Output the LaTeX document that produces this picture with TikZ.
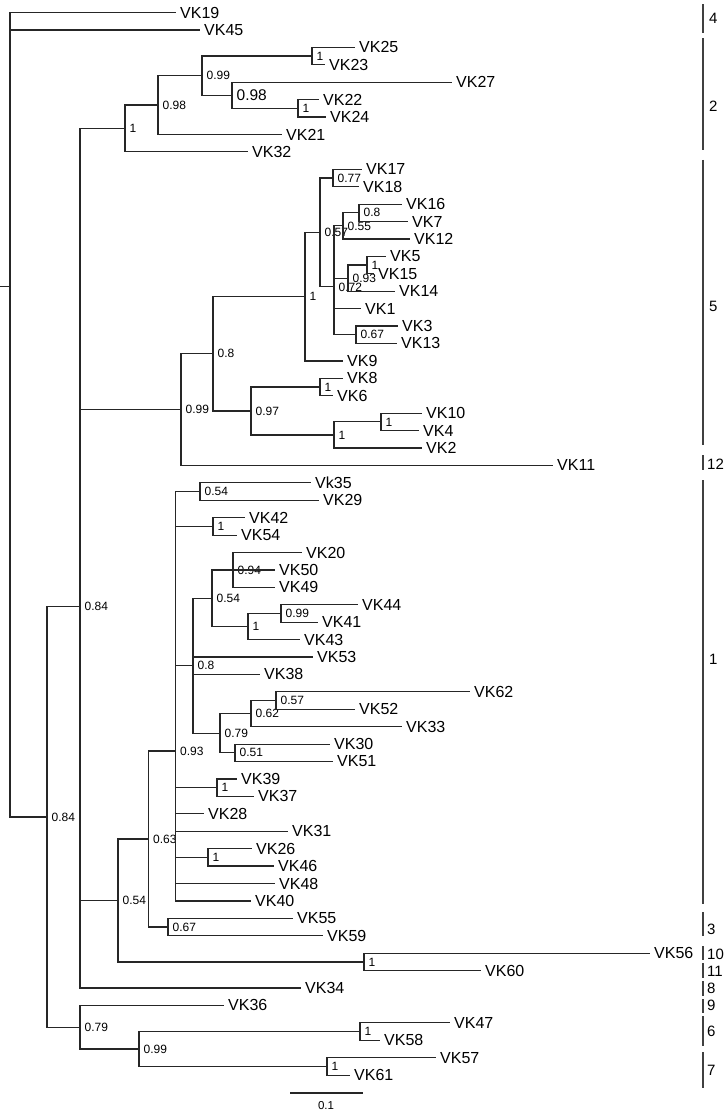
\documentclass[tikz,border=0pt]{standalone}
\usepackage{fontspec}
\setmainfont{Liberation Sans}

\begin{document}
\begin{tikzpicture}[x=1pt, y=-17.42pt,
  branch/.style={line width=1.2pt, black!85},
  leaf/.style={anchor=west, inner xsep=4pt, inner ysep=0pt, font=\fontsize{16}{16}\selectfont},
  supp/.style={inner sep=0pt, font=\fontsize{12}{12}\selectfont},
  bigsupp/.style={inner sep=0pt, font=\fontsize{15.5}{15.5}\selectfont},
  clade/.style={line width=1.6pt, black!75},
  cnum/.style={anchor=west, inner sep=0pt, font=\fontsize{15}{15}\selectfont},
  label distance=4.5pt]
  \useasboundingbox (0pt,12.5pt) rectangle (726pt,-1101.5pt);

  % internal nodes
  \coordinate (stub) at (0,15.726);
  \coordinate (root) at (10,15.726);
  \coordinate[label={[supp]right:0.84}] (nA) at (47,46.178);
  \coordinate[label={[supp]right:0.84}] (nB) at (80,34.106);
  \coordinate[label={[supp]right:0.79}] (nC) at (80,58.25);
  \coordinate[label={[supp]right:0.99}] (nD) at (139,59.5);
  \coordinate[label={[supp]right:1}] (nAR) at (360,58.5);
  \coordinate[label={[supp]right:1}] (nAS) at (327,60.5);
  \coordinate[label={[supp]right:1}] (nE) at (125,6.656);
  \coordinate[label={[supp]right:0.98}] (nV) at (158,5.3125);
  \coordinate[label={[supp]right:0.99}] (nW) at (202,3.625);
  \coordinate[label={[supp]right:1}] (nX) at (312,2.5);
  \coordinate[label={[bigsupp]right:0.98}] (nY) at (232,4.75);
  \coordinate[label={[supp]right:1}] (nZ) at (298,5.5);
  \coordinate[label={[supp]right:0.99}] (nF) at (181,22.797);
  \coordinate[label={[supp]right:0.8}] (nH) at (213,19.594);
  \coordinate[label={[supp]right:1}] (nI) at (305,16.3125);
  \coordinate[label={[supp]right:0.57}] (nJ) at (320,12.625);
  \coordinate[label={[supp]right:0.77}] (nK) at (333,9.5);
  \coordinate[label={[supp]right:0.72}] (nL) at (334,15.75);
  \coordinate[label={[supp]right:0.55}] (nM) at (343,12.25);
  \coordinate[label={[supp]right:0.8}] (nN) at (359,11.5);
  \coordinate[label={[supp]right:0.93}] (nO) at (348,15.25);
  \coordinate[label={[supp]right:1}] (nP) at (367,14.5);
  \coordinate[label={[supp]right:0.67}] (nQ) at (356,18.5);
  \coordinate[label={[supp]right:0.97}] (nR) at (251,22.875);
  \coordinate[label={[supp]right:1}] (nS) at (320,21.5);
  \coordinate[label={[supp]right:1}] (nT) at (334,24.25);
  \coordinate[label={[supp]right:1}] (nU) at (381,23.5);
  \coordinate[label={[supp]right:0.54}] (nG) at (118,50.972);
  \coordinate[label={[supp]right:0.63}] (nAA) at (148.5,47.444);
  \coordinate[label={[supp]right:0.67}] (nAB) at (168,52.5);
  \coordinate[label={[supp]right:0.93}] (nAC) at (175.5,42.389);
  \coordinate[label={[supp]right:0.54}] (nAD) at (200,27.5);
  \coordinate[label={[supp]right:1}] (nAE) at (213,29.5);
  \coordinate[label={[supp]right:0.8}] (nAF) at (193,37.5);
  \coordinate[label={[supp]right:0.54}] (nAG) at (212,33.625);
  \coordinate[label={[supp]right:0.94}] (nAI) at (233,32);
  \coordinate[label={[supp]right:1}] (nAJ) at (248,35.25);
  \coordinate[label={[supp]right:0.99}] (nAK) at (281,34.5);
  \coordinate[label={[supp]right:0.79}] (nAH) at (220,41.375);
  \coordinate[label={[supp]right:0.62}] (nAL) at (251,40.25);
  \coordinate[label={[supp]right:0.57}] (nAM) at (276,39.5);
  \coordinate[label={[supp]right:0.51}] (nAN) at (235,42.5);
  \coordinate[label={[supp]right:1}] (nAO) at (217,44.5);
  \coordinate[label={[supp]right:1}] (nAP) at (208,48.5);
  \coordinate[label={[supp]right:1}] (nAQ) at (364,54.5);

  % tips
  \node[leaf] (vk19) at (176,0) {VK19};
  \node[leaf] (vk45) at (200,1) {VK45};
  \node[leaf] (vk25) at (355,2) {VK25};
  \node[leaf] (vk23) at (325,3) {VK23};
  \node[leaf] (vk27) at (452,4) {VK27};
  \node[leaf] (vk22) at (319,5) {VK22};
  \node[leaf] (vk24) at (326,6) {VK24};
  \node[leaf] (vk21) at (282,7) {VK21};
  \node[leaf] (vk32) at (248,8) {VK32};
  \node[leaf] (vk17) at (362,9) {VK17};
  \node[leaf] (vk18) at (359,10) {VK18};
  \node[leaf] (vk16) at (402,11) {VK16};
  \node[leaf] (vk7) at (408,12) {VK7};
  \node[leaf] (vk12) at (410,13) {VK12};
  \node[leaf] (vk5) at (386,14) {VK5};
  \node[leaf] (vk15) at (374,15) {VK15};
  \node[leaf] (vk14) at (395,16) {VK14};
  \node[leaf] (vk1) at (361,17) {VK1};
  \node[leaf] (vk3) at (398,18) {VK3};
  \node[leaf] (vk13) at (397,19) {VK13};
  \node[leaf] (vk9) at (343,20) {VK9};
  \node[leaf] (vk8) at (343,21) {VK8};
  \node[leaf] (vk6) at (333,22) {VK6};
  \node[leaf] (vk10) at (422,23) {VK10};
  \node[leaf] (vk4) at (419,24) {VK4};
  \node[leaf] (vk2) at (422,25) {VK2};
  \node[leaf] (vk11) at (553,26) {VK11};
  \node[leaf] (vk35) at (311,27) {Vk35};
  \node[leaf] (vk29) at (319,28) {VK29};
  \node[leaf] (vk42) at (245,29) {VK42};
  \node[leaf] (vk54) at (237,30) {VK54};
  \node[leaf] (vk20) at (302,31) {VK20};
  \node[leaf] (vk50) at (275,32) {VK50};
  \node[leaf] (vk49) at (275,33) {VK49};
  \node[leaf] (vk44) at (358,34) {VK44};
  \node[leaf] (vk41) at (318,35) {VK41};
  \node[leaf] (vk43) at (300,36) {VK43};
  \node[leaf] (vk53) at (313,37) {VK53};
  \node[leaf] (vk38) at (260,38) {VK38};
  \node[leaf] (vk62) at (470,39) {VK62};
  \node[leaf] (vk52) at (355,40) {VK52};
  \node[leaf] (vk33) at (402,41) {VK33};
  \node[leaf] (vk30) at (330,42) {VK30};
  \node[leaf] (vk51) at (333,43) {VK51};
  \node[leaf] (vk39) at (237,44) {VK39};
  \node[leaf] (vk37) at (254,45) {VK37};
  \node[leaf] (vk28) at (204,46) {VK28};
  \node[leaf] (vk31) at (288,47) {VK31};
  \node[leaf] (vk26) at (252,48) {VK26};
  \node[leaf] (vk46) at (274,49) {VK46};
  \node[leaf] (vk48) at (275,50) {VK48};
  \node[leaf] (vk40) at (251,51) {VK40};
  \node[leaf] (vk55) at (293,52) {VK55};
  \node[leaf] (vk59) at (323,53) {VK59};
  \node[leaf] (vk56) at (650,54) {VK56};
  \node[leaf] (vk60) at (481,55) {VK60};
  \node[leaf] (vk34) at (301,56) {VK34};
  \node[leaf] (vk36) at (224,57) {VK36};
  \node[leaf] (vk47) at (450,58) {VK47};
  \node[leaf] (vk58) at (380,59) {VK58};
  \node[leaf] (vk57) at (436,60) {VK57};
  \node[leaf] (vk61) at (350,61) {VK61};

  % branches
  \draw[branch] (stub) -- (root);
  \draw[branch] (root) |- (vk19.west) (root) |- (vk45.west) (root) |- (nA);
  \draw[branch] (nA) |- (nB) (nA) |- (nC);
  \draw[branch] (nB) |- (nE) (nB) |- (nF) (nB) |- (nG) (nB) |- (vk34.west);
  \draw[branch] (nE) |- (nV) (nE) |- (vk32.west);
  \draw[branch] (nV) |- (nW) (nV) |- (vk21.west);
  \draw[branch] (nW) |- (nX) (nW) |- (nY);
  \draw[branch] (nX) |- (vk25.west) (nX) |- (vk23.west);
  \draw[branch] (nY) |- (vk27.west) (nY) |- (nZ);
  \draw[branch] (nZ) |- (vk22.west) (nZ) |- (vk24.west);
  \draw[branch] (nF) |- (nH) (nF) |- (vk11.west);
  \draw[branch] (nH) |- (nI) (nH) |- (nR);
  \draw[branch] (nI) |- (nJ) (nI) |- (vk9.west);
  \draw[branch] (nJ) |- (nK) (nJ) |- (nL);
  \draw[branch] (nK) |- (vk17.west) (nK) |- (vk18.west);
  \draw[branch] (nL) |- (nM) (nL) |- (nO) (nL) |- (vk1.west) (nL) |- (nQ);
  \draw[branch] (nM) |- (nN) (nM) |- (vk12.west);
  \draw[branch] (nN) |- (vk16.west) (nN) |- (vk7.west);
  \draw[branch] (nO) |- (nP) (nO) |- (vk14.west);
  \draw[branch] (nP) |- (vk5.west) (nP) |- (vk15.west);
  \draw[branch] (nQ) |- (vk3.west) (nQ) |- (vk13.west);
  \draw[branch] (nR) |- (nS) (nR) |- (nT);
  \draw[branch] (nS) |- (vk8.west) (nS) |- (vk6.west);
  \draw[branch] (nT) |- (nU) (nT) |- (vk2.west);
  \draw[branch] (nU) |- (vk10.west) (nU) |- (vk4.west);
  \draw[branch] (nG) |- (nAA) (nG) |- (nAQ);
  \draw[branch] (nAA) |- (nAC) (nAA) |- (nAB);
  \draw[branch] (nAB) |- (vk55.west) (nAB) |- (vk59.west);
  \draw[branch] (nAQ) |- (vk56.west) (nAQ) |- (vk60.west);
  \draw[branch] (nAC) |- (nAD) (nAC) |- (nAE) (nAC) |- (nAF) (nAC) |- (nAO)
                (nAC) |- (vk28.west) (nAC) |- (vk31.west) (nAC) |- (nAP)
                (nAC) |- (vk48.west) (nAC) |- (vk40.west);
  \draw[branch] (nAD) |- (vk35.west) (nAD) |- (vk29.west);
  \draw[branch] (nAE) |- (vk42.west) (nAE) |- (vk54.west);
  \draw[branch] (nAF) |- (nAG) (nAF) |- (vk53.west) (nAF) |- (vk38.west) (nAF) |- (nAH);
  \draw[branch] (nAG) |- (nAI) (nAG) |- (nAJ);
  \draw[branch] (nAI) |- (vk20.west) (nAI) |- (vk50.west) (nAI) |- (vk49.west);
  \draw[branch] (nAJ) |- (nAK) (nAJ) |- (vk43.west);
  \draw[branch] (nAK) |- (vk44.west) (nAK) |- (vk41.west);
  \draw[branch] (nAH) |- (nAL) (nAH) |- (nAN);
  \draw[branch] (nAL) |- (nAM) (nAL) |- (vk33.west);
  \draw[branch] (nAM) |- (vk62.west) (nAM) |- (vk52.west);
  \draw[branch] (nAN) |- (vk30.west) (nAN) |- (vk51.west);
  \draw[branch] (nAO) |- (vk39.west) (nAO) |- (vk37.west);
  \draw[branch] (nAP) |- (vk26.west) (nAP) |- (vk46.west);
  \draw[branch] (nC) |- (vk36.west) (nC) |- (nD);
  \draw[branch] (nD) |- (nAR) (nD) |- (nAS);
  \draw[branch] (nAR) |- (vk47.west) (nAR) |- (vk58.west);
  \draw[branch] (nAS) |- (vk57.west) (nAS) |- (vk61.west);

  % scale bar
  \coordinate (sb0) at (290,62.03);
  \coordinate (sb1) at (363,62.03);
  \draw[branch] (sb0) -- (sb1);
  \node[inner sep=0pt, font=\fontsize{11.5}{11.5}\selectfont] (sbl) at (326,62.77) {0.1};

  % clades
  \draw[clade] (703,-0.488) -- (703,1.177);
  \node[cnum] (c4) at (709,0.316) {4};
  \draw[clade] (703,1.464) -- (703,7.893);
  \node[cnum] (c2) at (709,5.367) {2};
  \draw[clade] (703,8.467) -- (703,24.828);
  \node[cnum] (c5) at (709,16.849) {5};
  \draw[clade] (703,25.402) -- (703,26.263);
  \node[cnum] (c12) at (707,25.918) {12};
  \draw[clade] (703,26.837) -- (703,51.177);
  \node[cnum] (c1) at (709,37.112) {1};
  \draw[clade] (703,51.636) -- (703,53.013);
  \node[cnum] (c3) at (707,52.612) {3};
  \draw[clade] (703,53.588) -- (703,54.392);
  \node[cnum] (c10) at (707,54.047) {10};
  \draw[clade] (703,54.564) -- (703,55.425);
  \node[cnum] (c11) at (707,55.022) {11};
  \draw[clade] (703,55.597) -- (703,56.458);
  \node[cnum] (c8) at (707,55.999) {8};
  \draw[clade] (703,56.630) -- (703,57.434);
  \node[cnum] (c9) at (707,56.975) {9};
  \draw[clade] (703,57.606) -- (703,59.328);
  \node[cnum] (c6) at (707,58.467) {6};
  \draw[clade] (703,59.673) -- (703,61.739);
  \node[cnum] (c7) at (707,60.706) {7};
\end{tikzpicture}
\end{document}
